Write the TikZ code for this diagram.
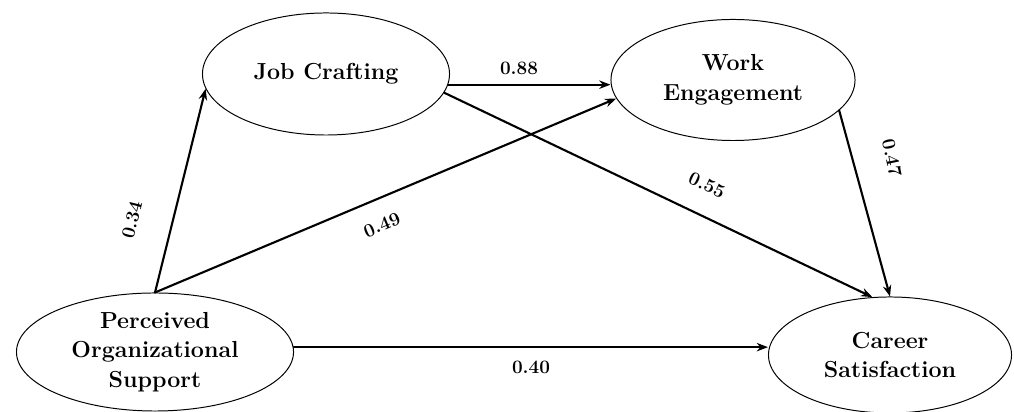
\documentclass[tikz,border=0pt]{standalone}
\usepackage{pgf,tikz}
\usetikzlibrary{arrows.meta,shapes.geometric}
\tikzset{
	latent/.style={ellipse,draw,line width=0.7pt,inner sep=0pt,align=center,font=\fontsize{16.5}{21}\selectfont\bfseries},
	coef/.style={font=\fontsize{13.5}{15}\selectfont\bfseries,inner sep=1pt},
	path/.style={->,line width=1.5pt}
}

\begin{document}
\begin{tikzpicture}[line cap=round,line join=round,>={Stealth[length=8pt,width=6pt]},x=0.025cm,y=0.025cm]
		\useasboundingbox (0,0) rectangle (1014,412);
		\node[latent,minimum width=6.175cm,minimum height=3.05cm] (jc) at (326,338) {Job Crafting};
		\node[latent,minimum width=6.1cm,minimum height=3.025cm] (we) at (733,332) {Work\\Engagement};
		\node[latent,minimum width=6.925cm,minimum height=2.95cm] (pos) at (155,60) {Perceived\\Organizational\\Support};
		\node[latent,minimum width=6.075cm,minimum height=2.9cm] (cs) at (890,57) {Career\\Satisfaction};
		\draw [path] (pos.north) -- (jc.187);
		\draw [path] (pos.north) -- (we.189);
		\draw [path] (jc.355) -- (jc.355 -| we.west);
		\draw [path] (jc.-9) -- (cs.107);
		\draw [path] (we.-16) -- (cs.north);
		\draw [path] (pos.2) -- (pos.2 -| cs.west);
		\node[coef,rotate=76] (c34) at (132,192) {0.34};
		\node[coef,rotate=23] (c49) at (382,187) {0.49};
		\node[coef] (c88) at (519,344) {0.88};
		\node[coef,rotate=-25] (c55) at (707,227) {0.55};
		\node[coef,rotate=-78] (c47) at (892,254) {0.47};
		\node[coef] (c40) at (531,45) {0.40};
\end{tikzpicture}
\end{document}
